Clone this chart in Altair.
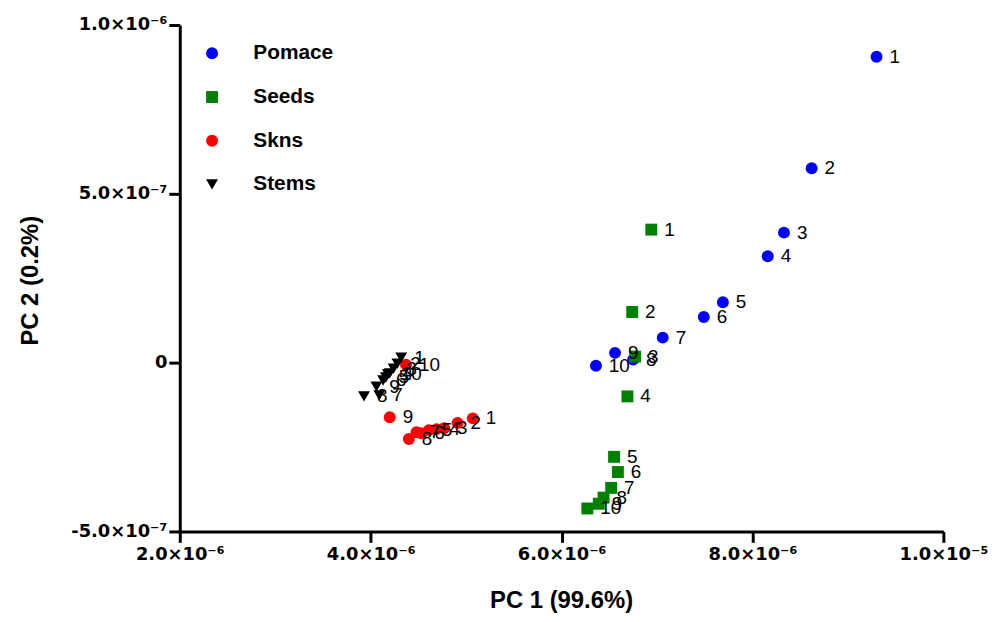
import altair as alt
import pandas as pd

series_names = ["Pomace", "Seeds", "Skns", "Stems"]
series_colors = ["#0000FF", "#008000", "#FF0000", "#000000"]
series_shapes = ["circle", "square", "circle", "triangle-down"]
point_labels = ["1", "2", "3", "4", "5", "6", "7", "8", "9", "10"]

pomace_pc1 = [9.30e-6, 8.62e-6, 8.33e-6, 8.16e-6, 7.69e-6, 7.49e-6, 7.06e-6, 6.75e-6, 6.56e-6, 6.36e-6]
pomace_pc2 = [0.906e-6, 0.576e-6, 0.385e-6, 0.315e-6, 0.179e-6, 0.135e-6, 0.074e-6, 0.009e-6, 0.029e-6, -0.009e-6]

seeds_pc1 = [6.94e-6, 6.74e-6, 6.77e-6, 6.69e-6, 6.55e-6, 6.59e-6, 6.52e-6, 6.44e-6, 6.39e-6, 6.27e-6]
seeds_pc2 = [0.394e-6, 0.150e-6, 0.018e-6, -0.100e-6, -0.279e-6, -0.324e-6, -0.371e-6, -0.400e-6, -0.418e-6, -0.432e-6]

skns_pc1 = [5.07e-6, 4.91e-6, 4.77e-6, 4.69e-6, 4.61e-6, 4.53e-6, 4.48e-6, 4.40e-6, 4.20e-6, 4.37e-6]
skns_pc2 = [-0.165e-6, -0.179e-6, -0.194e-6, -0.197e-6, -0.200e-6, -0.209e-6, -0.206e-6, -0.226e-6, -0.162e-6, -0.006e-6]

stems_pc1 = [4.32e-6, 4.28e-6, 4.24e-6, 4.20e-6, 4.16e-6, 4.13e-6, 4.09e-6, 3.93e-6, 4.06e-6, 4.18e-6]
stems_pc2 = [0.015e-6, -0.003e-6, -0.018e-6, -0.032e-6, -0.044e-6, -0.053e-6, -0.097e-6, -0.100e-6, -0.071e-6, -0.035e-6]

x_ticks = [2e-6, 4e-6, 6e-6, 8e-6, 1e-5]
x_tick_labels = ["2.0×10⁻⁶", "4.0×10⁻⁶", "6.0×10⁻⁶", "8.0×10⁻⁶", "1.0×10⁻⁵"]
y_ticks = [-5e-7, 0.0, 5e-7, 1e-6]
y_tick_labels = ["-5.0×10⁻⁷", "0", "5.0×10⁻⁷", "1.0×10⁻⁶"]

rows = []
for name, xs, ys in [
    ("Pomace", pomace_pc1, pomace_pc2),
    ("Seeds", seeds_pc1, seeds_pc2),
    ("Skns", skns_pc1, skns_pc2),
    ("Stems", stems_pc1, stems_pc2),
]:
    for lab, xv, yv in zip(point_labels, xs, ys):
        rows.append({"series": name, "pc1": xv, "pc2": yv, "label": lab})
df = pd.DataFrame(rows)


def label_expr(ticks, labels):
    expr = "''"
    for t, l in reversed(list(zip(ticks, labels))):
        expr = f"abs(datum.value - ({t!r})) < 1e-10 ? '{l}' : ({expr})"
    return expr


FONT = "Liberation Sans, Arial, sans-serif"
TICKFONT = "DejaVu Sans, sans-serif"

x_enc = alt.X(
    "pc1:Q",
    scale=alt.Scale(domain=[2e-6, 1e-5], nice=False, zero=False),
    axis=alt.Axis(
        title="PC 1 (99.6%)",
        values=x_ticks,
        labelExpr=label_expr(x_ticks, x_tick_labels),
        grid=False,
        domainColor="black",
        domainWidth=3,
        tickColor="black",
        tickWidth=3,
        tickSize=11,
        labelFont=TICKFONT,
        labelFontSize=18,
        labelFontWeight="bold",
        labelColor="black",
        labelPadding=3,
        labelFlush=False,
        labelOverlap=False,
        titleFont=FONT,
        titleFontSize=24,
        titleFontWeight="bold",
        titleColor="black",
        titleX=384,
        titleY=70,
        titleBaseline="middle",
        titleAlign="center",
    ),
)

y_enc = alt.Y(
    "pc2:Q",
    scale=alt.Scale(domain=[-5e-7, 1e-6], nice=False, zero=False),
    axis=alt.Axis(
        title="PC 2 (0.2%)",
        values=y_ticks,
        labelExpr=label_expr(y_ticks, y_tick_labels),
        grid=False,
        domainColor="black",
        domainWidth=3,
        tickColor="black",
        tickWidth=3,
        tickSize=11,
        labelFont=TICKFONT,
        labelFontSize=18,
        labelFontWeight="bold",
        labelColor="black",
        labelPadding=2,
        labelFlush=False,
        labelOverlap=False,
        titleFont=FONT,
        titleFontSize=24,
        titleFontWeight="bold",
        titleColor="black",
        titleAngle=270,
        titleX=-150,
        titleY=257,
        titleBaseline="middle",
        titleAlign="center",
    ),
)

legend = alt.Legend(
    title=None,
    orient="none",
    legendX=22,
    legendY=18,
    labelFont=FONT,
    labelFontSize=21,
    labelFontWeight="bold",
    labelColor="black",
    labelOffset=31,
    rowPadding=22,
    symbolSize=144,
    symbolStrokeWidth=0,
    padding=0,
)

points = alt.Chart(df).mark_point(filled=True, size=144, opacity=1, strokeWidth=0).encode(
    x=x_enc,
    y=y_enc,
    color=alt.Color("series:N", scale=alt.Scale(domain=series_names, range=series_colors), legend=legend),
    shape=alt.Shape("series:N", scale=alt.Scale(domain=series_names, range=series_shapes), legend=legend),
)

texts = alt.Chart(df).mark_text(
    align="left", baseline="middle", dx=13, fontSize=19, font=FONT, color="black"
).encode(x="pc1:Q", y="pc2:Q", text="label:N")

chart = (
    alt.layer(points, texts)
    .properties(
        width=769,
        height=510,
        autosize=alt.AutoSizeParams(type="none"),
        padding={"left": 173, "top": 15, "right": 52, "bottom": 81},
        background="white",
    )
    .configure_view(stroke=None)
)

chart.save("out.html", embed_options={"renderer": "svg", "actions": False})
